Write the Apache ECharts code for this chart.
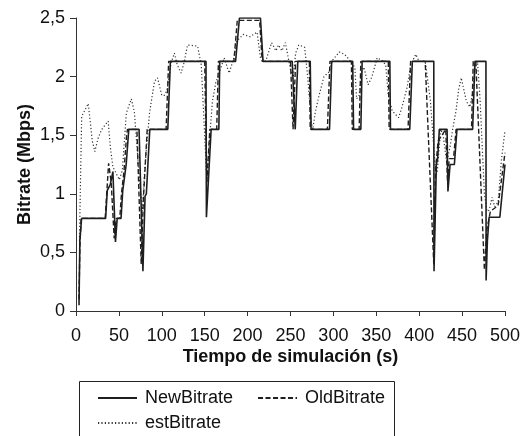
<!DOCTYPE html>
<html>
<head>
<meta charset="utf-8">
<script src="https://cdn.jsdelivr.net/npm/echarts@6/dist/echarts.min.js"></script>
<style>
  html, body { margin: 0; padding: 0; background: #fff; }
  #chart { width: 523px; height: 436px; }
</style>
</head>
<body>
<div id="chart"></div>
<script>
// Simulation time (s) and bitrate (Mbps) samples for each algorithm
const newBitrate = [
  [3.5, 0.05], [4.5, 0.6], [6.5, 0.79], [34.5, 0.79], [36.5, 1.03], [40, 1.08], [43, 1.19],
  [46, 0.59], [48, 0.79], [52.5, 0.79], [54.5, 1.03], [56.5, 1.14], [58.5, 1.25], [61.5, 1.55],
  [73.5, 1.55], [78, 0.34], [80.5, 0.98], [82, 1.0], [86, 1.55], [107, 1.55], [110, 2.13],
  [151.5, 2.13], [152, 0.8], [157.5, 1.55], [166.5, 1.55], [167.5, 2.13], [186, 2.13],
  [190.5, 2.5], [215, 2.5], [218, 2.13], [252, 2.13], [255.5, 1.55], [258.5, 2.13],
  [273, 2.13], [274, 1.55], [295.5, 1.55], [298, 2.13], [322.5, 2.13], [323.5, 1.55],
  [332, 1.55], [333.5, 2.13], [365.8, 2.13], [366.5, 1.55], [389, 1.55], [392, 2.13],
  [417, 2.13], [417.3, 0.34], [420, 1.25], [421.5, 1.3], [423.5, 1.55], [432.5, 1.55],
  [433.5, 1.02], [436, 1.25], [441, 1.25], [444, 1.55], [462.3, 1.55], [465, 2.13],
  [477.8, 2.13], [478, 0.26], [479.5, 0.6], [481.5, 0.8], [494, 0.8], [500, 1.25]
];
const oldBitrate = [
  [3.5, 0.1], [4.5, 0.55], [6, 0.79], [34, 0.79], [38, 1.26], [41, 1.1], [44.5, 0.62],
  [47, 0.79], [51, 0.79], [53, 1.0], [56, 1.2], [59, 1.5], [60, 1.55], [71, 1.55],
  [76, 0.4], [78.5, 0.95], [83, 1.55], [105, 1.55], [108, 2.13], [150, 2.13], [152.5, 1.1],
  [156, 1.55], [164, 1.55], [166, 2.13], [184, 2.13], [188, 2.48], [214, 2.48], [217, 2.13],
  [250, 2.13], [253, 1.55], [256, 2.13], [272, 2.13], [273, 1.55], [293, 1.55], [296, 2.13],
  [321, 2.13], [322, 1.55], [330, 1.55], [332, 2.13], [364, 2.13], [365, 1.55], [387, 1.55],
  [390, 2.13], [407, 2.13], [417, 0.4], [419, 1.2], [422, 1.45], [431, 1.55], [433, 1.1],
  [435, 1.3], [440, 1.3], [443, 1.55], [461, 1.55], [463, 2.13], [466, 2.13], [476, 0.35],
  [479, 0.7], [483, 0.85], [492, 0.9], [500, 1.35]
];
const estBitrate = [
  [4, 0.6], [6.6, 1.66], [14.3, 1.77], [19, 1.45], [22, 1.36], [25.5, 1.47], [30, 1.55],
  [37.5, 1.62], [40, 1.4], [43, 1.23], [50.5, 1.12], [54, 1.2], [58.7, 1.69], [64.5, 1.81],
  [68, 1.7], [74, 1.12], [77.5, 0.85], [80, 1.2], [85.7, 1.69], [91.5, 1.96], [95, 1.99],
  [100, 1.84], [103, 1.84], [106, 1.88], [110.9, 2.12], [114.7, 2.2], [118, 2.1],
  [122.5, 2.03], [126, 2.12], [130, 2.27], [141.7, 2.26], [146, 2.1], [150, 1.5],
  [152.5, 1.1], [156, 1.5], [159, 1.79], [163, 1.95], [166.9, 2.03], [172.7, 2.16],
  [178.5, 2.03], [184, 2.16], [187, 2.3], [195, 2.36], [203, 2.34], [211, 2.38], [215, 2.16],
  [221, 2.13], [228, 2.29], [233, 2.22], [236, 2.27], [240, 2.22], [244, 2.29], [250, 2.06],
  [253, 1.98], [256, 2.2], [259.7, 2.27], [266.5, 2.25], [270, 2.0], [274, 1.63],
  [276, 1.55], [279, 1.7], [283, 1.83], [289, 2.0], [295, 2.04], [299, 2.14], [307, 2.21],
  [313, 2.19], [318, 2.15], [325, 2.08], [327, 1.81], [330, 1.84], [333, 2.05],
  [335.5, 2.08], [340.5, 1.93], [345, 2.0], [351, 2.16], [356.5, 2.14], [361, 2.1],
  [364, 1.84], [368.5, 1.71], [372, 1.68], [376, 1.65], [380, 1.74], [386, 1.91],
  [390, 2.1], [396, 2.19], [400, 2.13], [407, 2.13], [413, 1.8], [419, 1.2], [421, 1.18],
  [425, 1.55], [428, 1.5], [432, 1.27], [436, 1.4], [439, 1.55], [443, 1.71], [446, 1.89],
  [449, 1.99], [452, 1.89], [455, 1.79], [459, 1.74], [462, 1.85], [465, 2.08], [468, 2.13],
  [471, 1.8], [476, 1.0], [479, 0.85], [481.5, 0.86], [485, 0.97], [488, 0.89], [492, 0.93],
  [496, 1.3], [500, 1.54]
];

// Axis ticks
const xTicks = { min: 0, max: 500, step: 50 };
const yTicks = { min: 0, max: 2.5, step: 0.5 };

const ink = '#1e1e1e';
const font = '"Liberation Sans", Arial, sans-serif';

const chart = echarts.init(document.getElementById('chart'), null, { renderer: 'canvas' });

const legendText = { fontFamily: font, fontSize: 18, color: '#111', padding: [0, 0, 0, 3] };

chart.setOption({
  animation: false,
  backgroundColor: '#ffffff',
  textStyle: { fontFamily: font },
  grid: { left: 76, right: 15.5, top: 18, bottom: 125, containLabel: false },
  xAxis: {
    type: 'value',
    min: xTicks.min, max: xTicks.max, interval: xTicks.step,
    name: 'Tiempo de simulación (s)',
    nameLocation: 'middle',
    nameGap: 37,
    nameMoveOverlap: false,
    nameTextStyle: { fontFamily: font, fontSize: 18, fontWeight: 'bold', color: '#111' },
    axisLine: { lineStyle: { color: '#333', width: 1 } },
    axisTick: { length: 5, lineStyle: { color: '#333' } },
    axisLabel: { fontFamily: font, fontSize: 18, color: '#111', margin: 16 },
    splitLine: { show: false }
  },
  yAxis: {
    type: 'value',
    min: yTicks.min, max: yTicks.max, interval: yTicks.step,
    name: 'Bitrate (Mbps)',
    nameLocation: 'middle',
    nameGap: 42,
    nameMoveOverlap: false,
    nameTextStyle: { fontFamily: font, fontSize: 18, fontWeight: 'bold', color: '#111' },
    axisLine: { show: true, lineStyle: { color: '#333', width: 1 } },
    axisTick: { show: true, length: 6, lineStyle: { color: '#333' } },
    axisLabel: {
      fontFamily: font, fontSize: 18, color: '#111', margin: 11,
      formatter: v => String(v).replace('.', ',')
    },
    splitLine: { show: false }
  },
  legend: [
    {
      data: ['NewBitrate', 'OldBitrate'],
      left: 97, top: 389, padding: 0,
      itemWidth: 39, itemHeight: 14, itemGap: 24,
      itemStyle: { opacity: 0 },
      textStyle: legendText
    },
    {
      data: ['estBitrate'],
      left: 97, top: 414, padding: 0,
      itemWidth: 39, itemHeight: 14,
      itemStyle: { opacity: 0 },
      textStyle: legendText
    }
  ],
  graphic: [{
    type: 'rect',
    shape: { x: 79.5, y: 381.5, width: 315, height: 70 },
    style: { fill: 'none', stroke: '#222', lineWidth: 1 },
    silent: true
  }],
  series: [
    {
      name: 'estBitrate', type: 'line', data: estBitrate, symbol: 'none',
      lineStyle: { color: '#333', width: 1.2, type: [1.2, 2.2] },
      itemStyle: { color: '#333' }
    },
    {
      name: 'OldBitrate', type: 'line', data: oldBitrate, symbol: 'none',
      lineStyle: { color: ink, width: 1.4, type: [5, 2.5] },
      itemStyle: { color: ink }
    },
    {
      name: 'NewBitrate', type: 'line', data: newBitrate, symbol: 'none',
      lineStyle: { color: ink, width: 1.6, type: 'solid' },
      itemStyle: { color: ink }
    }
  ]
});
</script>
</body>
</html>
